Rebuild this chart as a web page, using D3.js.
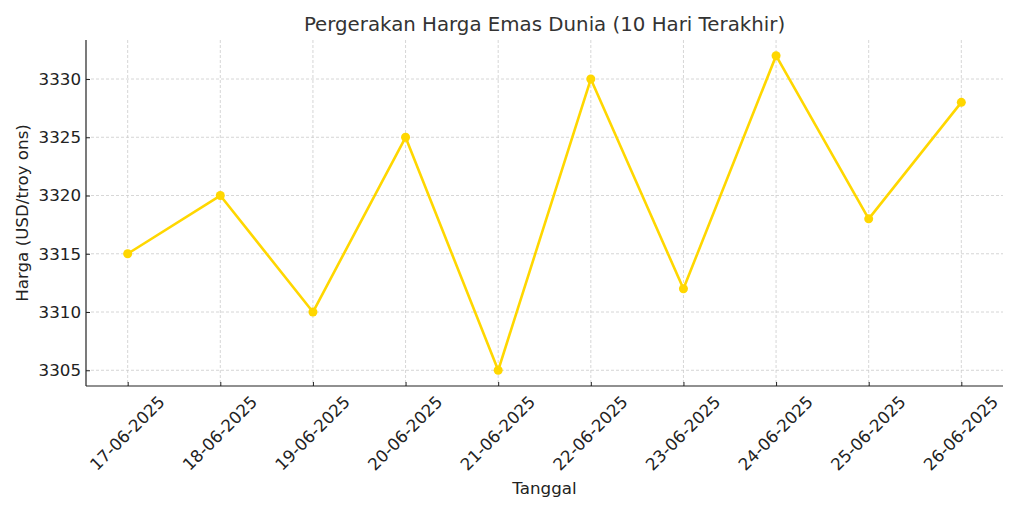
<!DOCTYPE html>
<html>
<head>
<meta charset="utf-8">
<script src="https://cdn.jsdelivr.net/npm/d3@7"></script>
<style>
  body { margin: 0; background: #fff; }
  svg, svg text { font-family: "DejaVu Sans", sans-serif; }
</style>
</head>
<body>
<svg id="chart" width="1024" height="512"></svg>
<script>
const dates = ["17-06-2025", "18-06-2025", "19-06-2025", "20-06-2025", "21-06-2025",
               "22-06-2025", "23-06-2025", "24-06-2025", "25-06-2025", "26-06-2025"];
const prices = [3315, 3320, 3310, 3325, 3305, 3330, 3312, 3332, 3318, 3328];
const yTicks = [3305, 3310, 3315, 3320, 3325, 3330];

const plotLeft = 86, plotRight = 1003, plotTop = 40, plotBottom = 386;
const fontSize = 16.7;

const svg = d3.select("#chart");

// index scale with matplotlib-like 5% padding
const x = d3.scaleLinear()
  .domain([-0.45, dates.length - 1 + 0.45])
  .range([plotLeft, plotRight]);

const yMin = d3.min(prices), yMax = d3.max(prices);
const pad = (yMax - yMin) * 0.05;
const y = d3.scaleLinear()
  .domain([yMin - pad, yMax + pad])
  .range([plotBottom, plotTop]);

// grid
const grid = svg.append("g")
  .attr("stroke", "#cccccc")
  .attr("stroke-width", 0.8)
  .attr("stroke-dasharray", "3,2");
grid.selectAll(".gx")
  .data(dates).enter()
  .append("line")
  .attr("x1", (d, i) => x(i)).attr("x2", (d, i) => x(i))
  .attr("y1", plotTop).attr("y2", plotBottom);
grid.selectAll(".gy")
  .data(yTicks).enter()
  .append("line")
  .attr("x1", plotLeft).attr("x2", plotRight)
  .attr("y1", d => y(d)).attr("y2", d => y(d));

// axes (ticks pointing inward)
const xAxis = svg.append("g")
  .attr("transform", "translate(0," + plotBottom + ")")
  .call(d3.axisBottom(x)
    .tickValues(d3.range(dates.length))
    .tickFormat(i => dates[i])
    .tickSizeInner(-4)
    .tickSizeOuter(0)
    .tickPadding(8))
  .attr("font-family", null)
  .attr("font-size", null);
xAxis.select(".domain").attr("stroke", "#222").attr("stroke-width", 1.2)
  .attr("d", "M" + plotLeft + ",0H" + plotRight);
xAxis.selectAll(".tick line").attr("stroke", "#222");
xAxis.selectAll(".tick text")
  .attr("font-size", fontSize)
  .attr("fill", "#222")
  .attr("text-anchor", "middle")
  .attr("dy", null)
  .attr("y", 0)
  .attr("transform", "translate(0,48) rotate(-45)")
  .attr("dominant-baseline", "middle");

const yAxis = svg.append("g")
  .attr("transform", "translate(" + plotLeft + ",0)")
  .call(d3.axisLeft(y)
    .tickValues(yTicks)
    .tickFormat(d3.format("d"))
    .tickSizeInner(-4)
    .tickSizeOuter(0)
    .tickPadding(5))
  .attr("font-family", null)
  .attr("font-size", null);
yAxis.select(".domain").attr("stroke", "#222").attr("stroke-width", 1.2)
  .attr("d", "M0," + plotTop + "V" + plotBottom);
yAxis.selectAll(".tick line").attr("stroke", "#222");
yAxis.selectAll(".tick text")
  .attr("font-size", fontSize)
  .attr("fill", "#222");

// line + points
const line = d3.line()
  .x((d, i) => x(i))
  .y(d => y(d));

svg.append("path")
  .datum(prices)
  .attr("fill", "none")
  .attr("stroke", "#FFD700")
  .attr("stroke-width", 2.6)
  .attr("stroke-linejoin", "round")
  .attr("d", line);

svg.append("g")
  .selectAll("circle")
  .data(prices).enter()
  .append("circle")
  .attr("cx", (d, i) => x(i))
  .attr("cy", d => y(d))
  .attr("r", 4.5)
  .attr("fill", "#FFD700");

// labels
svg.append("text")
  .attr("x", (plotLeft + plotRight) / 2)
  .attr("y", 31)
  .attr("text-anchor", "middle")
  .attr("font-size", 19.8)
  .attr("fill", "#333")
  .text("Pergerakan Harga Emas Dunia (10 Hari Terakhir)");

svg.append("text")
  .attr("x", (plotLeft + plotRight) / 2)
  .attr("y", 494)
  .attr("text-anchor", "middle")
  .attr("font-size", fontSize)
  .attr("fill", "#222")
  .text("Tanggal");

svg.append("text")
  .attr("transform", "translate(28," + (plotTop + plotBottom) / 2 + ") rotate(-90)")
  .attr("text-anchor", "middle")
  .attr("font-size", fontSize)
  .attr("fill", "#222")
  .text("Harga (USD/troy ons)");
</script>
</body>
</html>
